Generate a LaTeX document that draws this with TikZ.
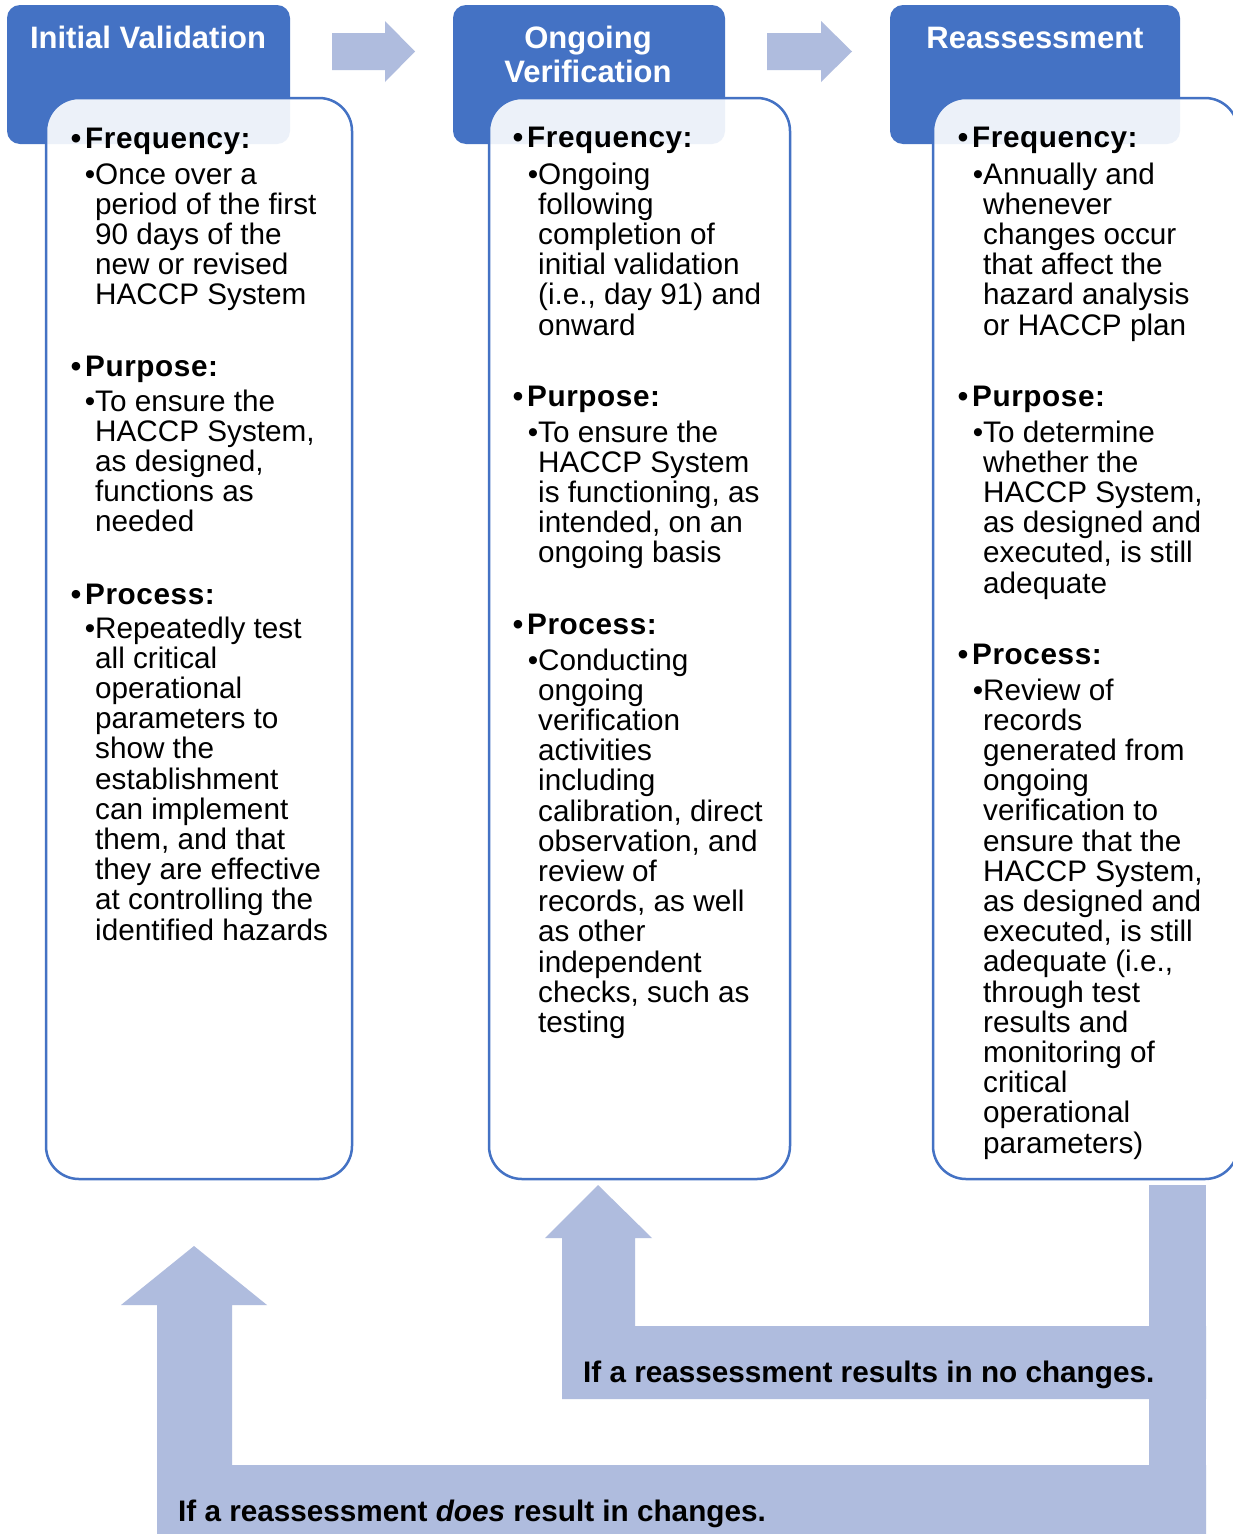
\documentclass[tikz,border=0pt]{standalone}
\usepackage{fontspec}
\setmainfont{Liberation Sans}
\definecolor{hdr}{HTML}{4472C4}
\definecolor{arr}{HTML}{AFBCDE}
\newcommand\txtlines[5]{%
  \foreach \lntxt [count=\i from 0] in {#5} {
    \node[#2] (#1-\i) at (#3, {#4+\i*30.2}) {\lntxt};
  }%
}
\tikzset{
  hdrbox/.style={fill=hdr, rounded corners=13pt, inner sep=0pt, outer sep=0pt, anchor=north west},
  bodybox/.style={draw=hdr, line width=2.5pt, fill=white, fill opacity=0.9, rounded corners=33pt, inner sep=0pt, outer sep=0pt, anchor=north west},
  hdrtxt/.style={text=white, font=\fontsize{31}{34}\selectfont\bfseries, inner sep=0pt, anchor=base},
  txt/.style={font=\fontsize{29.7}{30}\selectfont, inner sep=0pt, anchor=base west},
  htxt/.style={font=\fontsize{29.7}{30}\selectfont\bfseries\addfontfeature{LetterSpace=2}, inner sep=0pt, anchor=base west},
  btxt/.style={font=\fontsize{29.7}{30}\selectfont\bfseries, inner sep=0pt, anchor=base west},
  arrfill/.style={fill=arr},
}
\begin{document}
\begin{tikzpicture}[x=1pt,y=-1pt]
\clip (0,0) rectangle (1233,1534);
\fill[white] (0,0) rectangle (1233,1534);
% headers
\node[hdrbox, minimum width=283pt, minimum height=139pt] (h1) at (7,5) {};
\node[hdrbox, minimum width=272pt, minimum height=139pt] (h2) at (453,5) {};
\node[hdrbox, minimum width=290pt, minimum height=139pt] (h3) at (890,5) {};
% bodies
\node[bodybox, minimum width=306pt, minimum height=1081pt] (b1) at (46,98) {};
\node[bodybox, minimum width=301pt, minimum height=1081pt] (b2) at (489,98) {};
\node[bodybox, minimum width=305pt, minimum height=1081pt] (b3) at (933,98) {};
% titles
\node[hdrtxt] (t1) at (148,48) {Initial Validation};
\node[hdrtxt] (t2a) at (588,48) {Ongoing};
\node[hdrtxt] (t2b) at (588,82) {Verification};
\node[hdrtxt] (t3) at (1035,48) {Reassessment};
% top arrows
\fill[arrfill] (332,33) -- (385,33) -- (385,21) -- (415,51.5) -- (385,82) -- (385,70) -- (332,70) -- cycle;
\fill[arrfill] (767,33) -- (821,33) -- (821,21) -- (852,51.5) -- (821,82) -- (821,70) -- (767,70) -- cycle;
% column 1
\node[htxt] (c1f) at (85,148) {\llap{•\kern4pt}Frequency:};
\txtlines{c1fl}{txt}{95}{184}{{\llap{•}Once over a},{period of the first},{90 days of the},{new or revised},{HACCP System}}
\node[htxt] (c1p) at (85,376) {\llap{•\kern4pt}Purpose:};
\txtlines{c1pl}{txt}{95}{411}{{\llap{•}To ensure the},{HACCP System,},{as designed,},{functions as},{needed}}
\node[htxt] (c1r) at (85,604) {\llap{•\kern4pt}Process:};
\txtlines{c1rl}{txt}{95}{638}{{\llap{•}Repeatedly test},{all critical},{operational},{parameters to},{show the},{establishment},{can implement},{them, and that},{they are effective},{at controlling the},{identified hazards}}
% column 2
\node[htxt] (c2f) at (527,147) {\llap{•\kern4pt}Frequency:};
\txtlines{c2fl}{txt}{538}{184}{{\llap{•}Ongoing},{following},{completion of},{initial validation},{(i.e., day 91) and},{onward}}
\node[htxt] (c2p) at (527,406) {\llap{•\kern4pt}Purpose:};
\txtlines{c2pl}{txt}{538}{442}{{\llap{•}To ensure the},{HACCP System},{is functioning, as},{intended, on an},{ongoing basis}}
\node[htxt] (c2r) at (527,634) {\llap{•\kern4pt}Process:};
\txtlines{c2rl}{txt}{538}{670}{{\llap{•}Conducting},{ongoing},{verification},{activities},{including},{calibration, direct},{observation, and},{review of},{records, as well},{as other},{independent},{checks, such as},{testing}}
% column 3
\node[htxt] (c3f) at (972,147) {\llap{•\kern4pt}Frequency:};
\txtlines{c3fl}{txt}{983}{184}{{\llap{•}Annually and},{whenever},{changes occur},{that affect the},{hazard analysis},{or HACCP plan}}
\node[htxt] (c3p) at (972,406) {\llap{•\kern4pt}Purpose:};
\txtlines{c3pl}{txt}{983}{442}{{\llap{•}To determine},{whether the},{HACCP System,},{as designed and},{executed, is still},{adequate}}
\node[htxt] (c3r) at (972,664) {\llap{•\kern4pt}Process:};
\txtlines{c3rl}{txt}{983}{700}{{\llap{•}Review of},{records},{generated from},{ongoing},{verification to},{ensure that the},{HACCP System,},{as designed and},{executed, is still},{adequate (i.e.,},{through test},{results and},{monitoring of},{critical},{operational},{parameters)}}
% bottom arrows
\fill[arrfill] (1149,1185) rectangle (1206,1534);
\fill[arrfill] (598,1185) -- (652,1238) -- (635,1238) -- (635,1326) -- (1206,1326) -- (1206,1399) -- (562,1399) -- (562,1238) -- (545,1238) -- cycle;
\fill[arrfill] (194,1246) -- (267,1305) -- (232,1305) -- (232,1465) -- (1206,1465) -- (1206,1534) -- (157,1534) -- (157,1305) -- (121,1305) -- cycle;
\node[btxt] (n1) at (583,1382) {If a reassessment results in no changes.};
\node[btxt] (n2) at (178,1521) {If a reassessment \textit{does} result in changes.};
\end{tikzpicture}
\end{document}
